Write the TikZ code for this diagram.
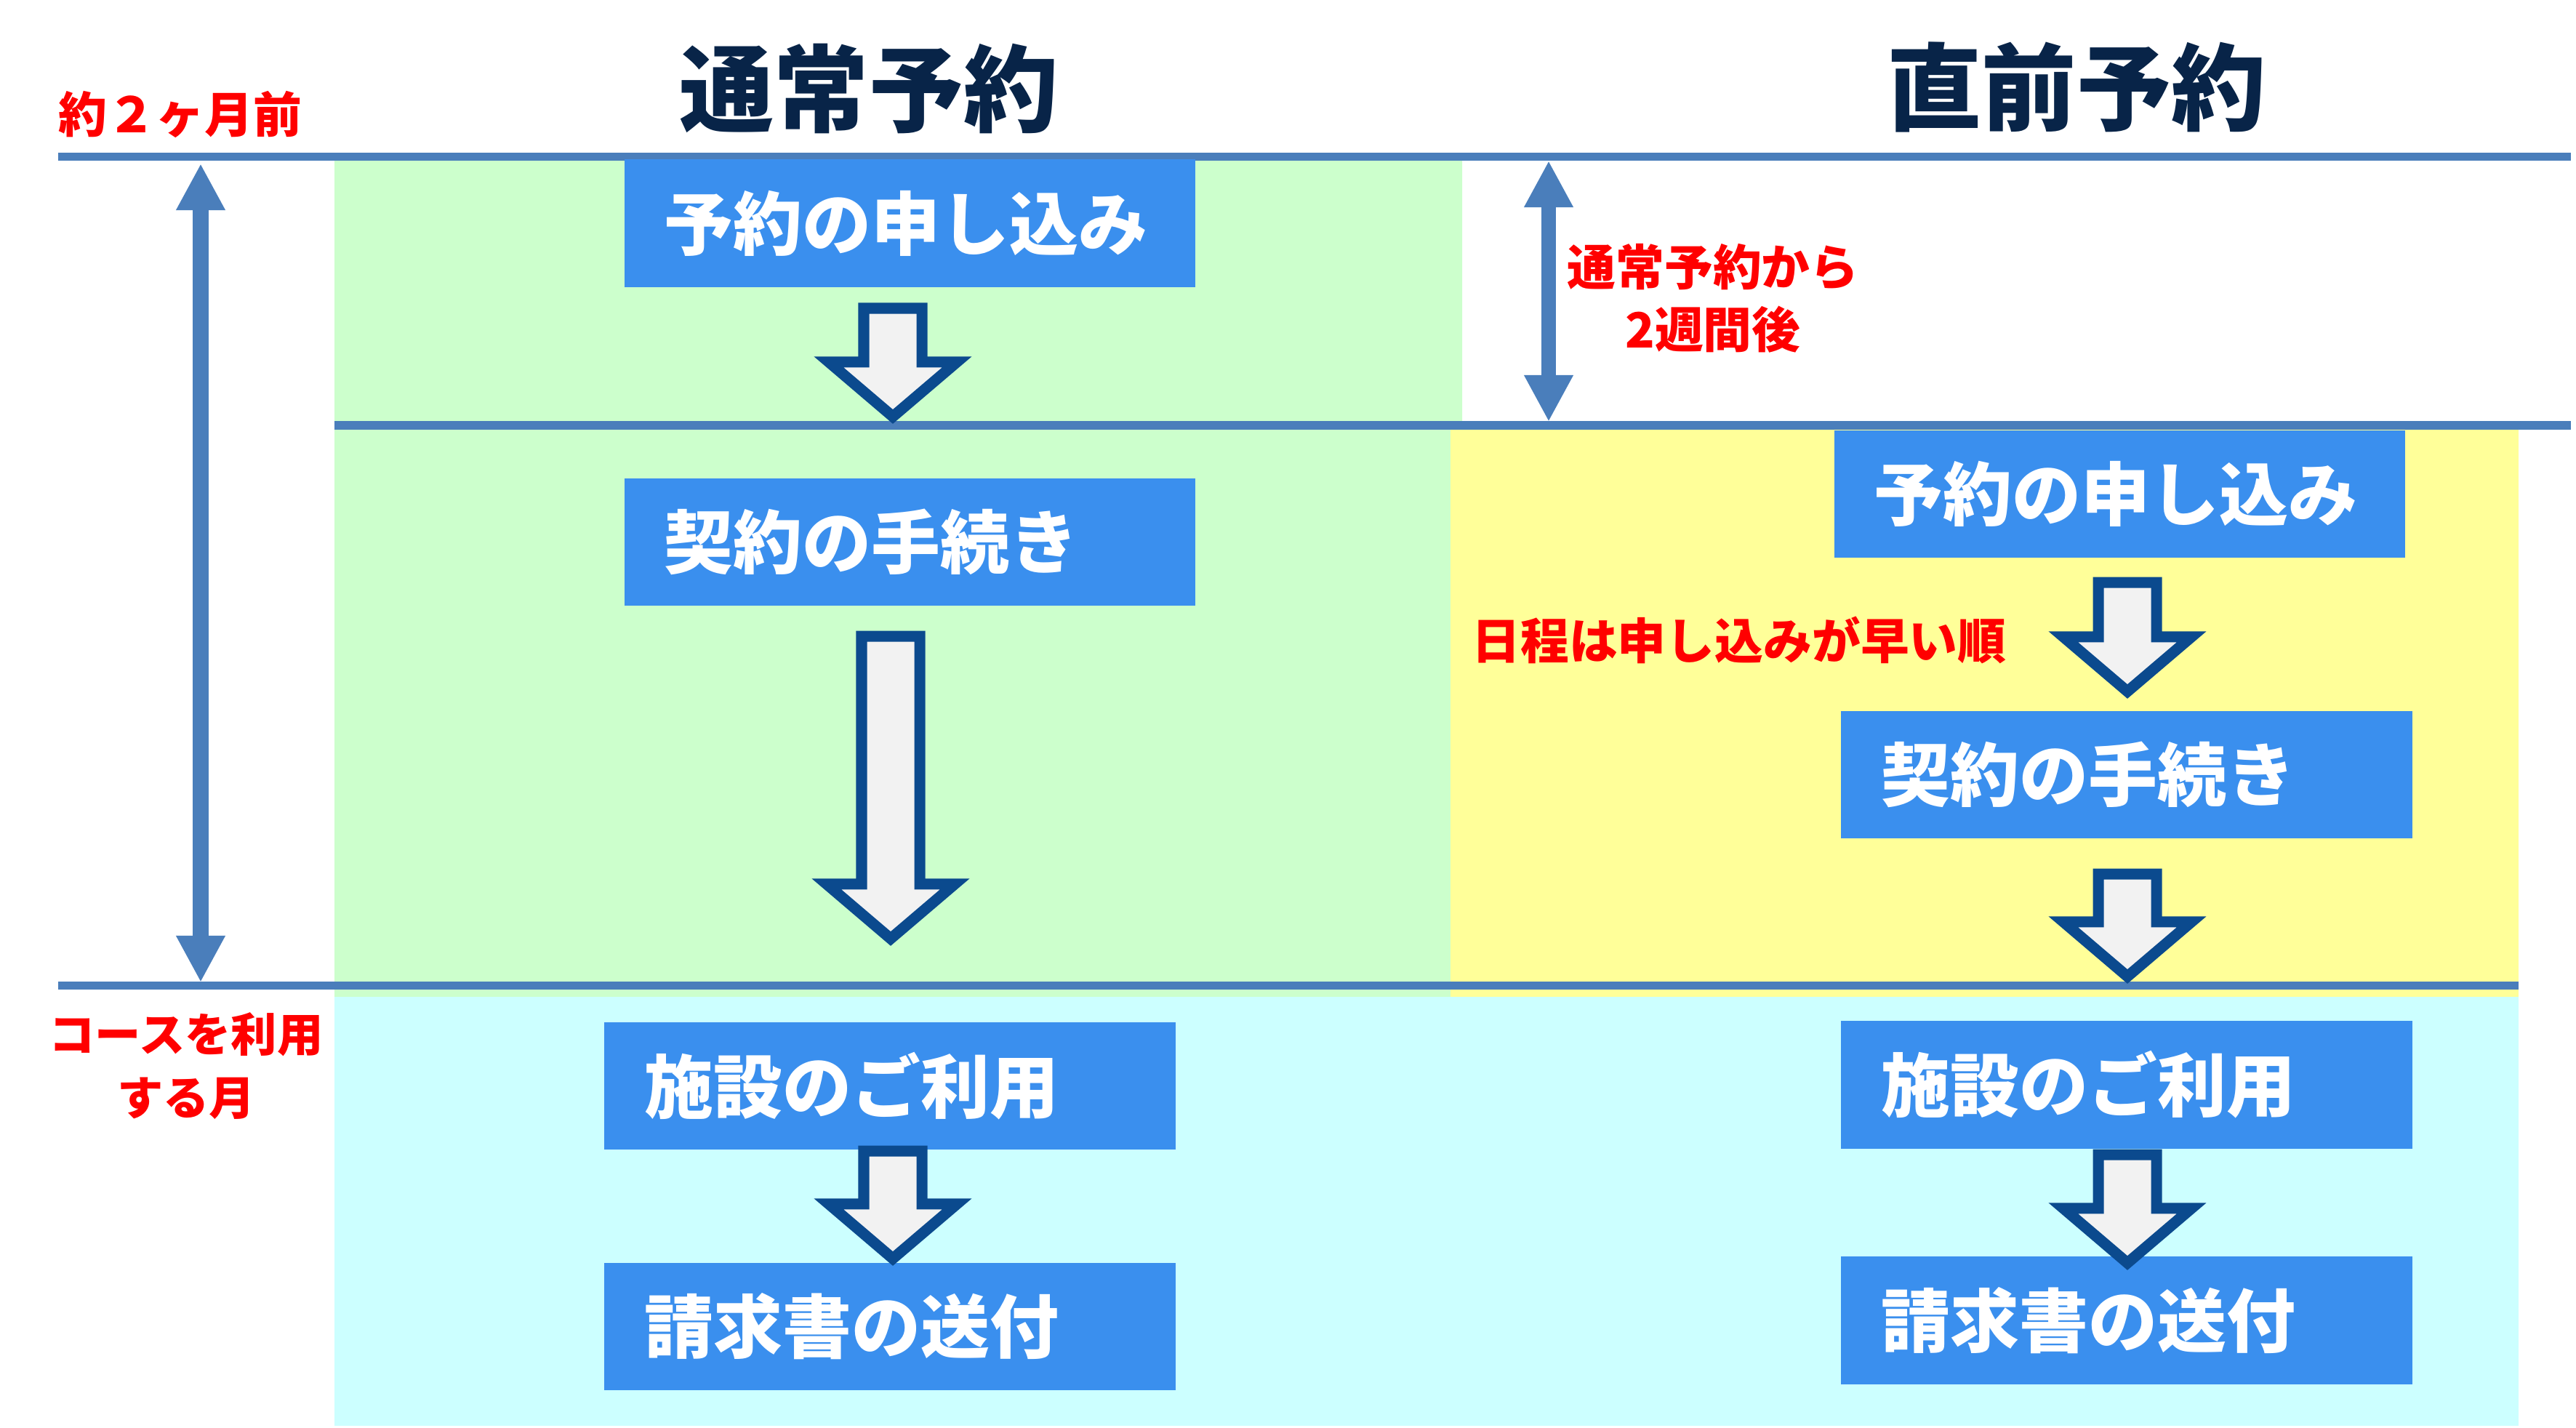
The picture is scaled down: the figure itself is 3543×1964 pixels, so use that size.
\documentclass[tikz,border=0pt]{standalone}
\usepackage{fontspec}
\setmainfont{Noto Sans CJK JP}
\usetikzlibrary{arrows.meta,calc}

\definecolor{lineblue}{RGB}{74,126,187}
\definecolor{boxblue}{RGB}{58,143,238}
\definecolor{arrowblue}{RGB}{11,74,142}
\definecolor{arrowfill}{RGB}{242,242,242}
\definecolor{titlenavy}{RGB}{8,36,72}
\definecolor{bggreen}{RGB}{204,255,204}
\definecolor{bgyellow}{RGB}{255,255,153}
\definecolor{bgcyan}{RGB}{204,255,255}

\tikzset{
  stepbox/.style={fill=boxblue, text=white,
    font=\bfseries\fontsize{27pt}{32pt}\selectfont,
    text width=6.75cm, align=left, inner xsep=0.55cm, inner ysep=0pt,
    minimum height=1.75cm},
  coltitle/.style={text=titlenavy, font=\bfseries\fontsize{37pt}{44pt}\selectfont},
  rednote/.style={text=red, align=center,
    font=\bfseries\fontsize{19pt}{24.5pt}\selectfont},
  hline/.style={lineblue, line width=0.11cm},
  period/.style={lineblue, line width=0.22cm, <->,
    >={Triangle[width=0.63cm,length=0.64cm]}},
  blockarrow/.style={draw=arrowblue, fill=arrowfill, line width=0.15cm},
}

% hollow down arrow from (#1) to its tip (#2)
\newcommand\blockarrow[2]{%
  \draw[blockarrow] let \p1=(#1), \p2=(#2) in
    (\x1-0.4cm,\y1) -- (\x1+0.4cm,\y1) -- (\x1+0.4cm,\y2+0.75cm)
    -- (\x1+0.88cm,\y2+0.75cm) -- (\x1,\y2) -- (\x1-0.88cm,\y2+0.75cm)
    -- (\x1-0.4cm,\y2+0.75cm) -- cycle;}

\begin{document}
\begin{tikzpicture}[x=0.01cm,y=-0.01cm]
  \useasboundingbox (0,0) rectangle (3543,1964);

  % bands
  \fill[bggreen] (460,215) -- (2011,215) -- (2011,585) -- (1995,585)
    -- (1995,1371) -- (460,1371) -- cycle;
  \fill[bgyellow] (1995,585) rectangle (3464,1371);
  \fill[bgcyan] (460,1371) rectangle (3464,1961);

  \draw[hline] (80,215.5) -- (3536,215.5);
  \draw[hline] (460,585) -- (3536,585);
  \draw[hline] (80,1355.5) -- (3464,1355.5);

  \node[coltitle] (t1) at (1195,122) {通常予約};
  \node[coltitle] (t2) at (2856,120) {直前予約};

  \node[rednote] (m1) at (248,157) {約２ヶ月前};
  \node[rednote, font=\bfseries\fontsize{18pt}{25pt}\selectfont] (m2) at (256,1466) {コースを利用\\する月};
  \node[rednote] (m3) at (2356,410) {通常予約から\\2週間後};
  \node[rednote] (m4) at (2392,880) {日程は申し込みが早い順};

  \coordinate (p1) at (276,225);
  \coordinate (p2) at (276,1351);
  \coordinate (q1) at (2130,221);
  \coordinate (q2) at (2130,580);
  \draw[period] (p1) -- (p2);
  \draw[period, line width=0.2cm] (q1) -- (q2);

  \node[stepbox] (n1) at (1251.5,307) {予約の申し込み};
  \node[stepbox] (n2) at (1251.5,745.5) {契約の手続き};
  \node[stepbox] (n3) at (1224,1493.5) {施設のご利用};
  \node[stepbox] (n4) at (1224,1824.5) {請求書の送付};
  \node[stepbox] (c1) at (2915.5,679.5) {予約の申し込み};
  \node[stepbox] (c2) at (2925,1065.5) {契約の手続き};
  \node[stepbox] (c3) at (2925,1492) {施設のご利用};
  \node[stepbox] (c4) at (2925,1816) {請求書の送付};

  \coordinate (s1) at (1228,424);  \coordinate (e1) at (1228,573);
  \coordinate (s2) at (1225,875);  \coordinate (e2) at (1225,1291);
  \coordinate (s3) at (1228,1583); \coordinate (e3) at (1228,1731);
  \coordinate (s4) at (2926,801);  \coordinate (e4) at (2926,951);
  \coordinate (s5) at (2926,1202); \coordinate (e5) at (2926,1343);
  \coordinate (s6) at (2926,1588); \coordinate (e6) at (2926,1737);
  \foreach \i in {1,...,6} {\blockarrow{s\i}{e\i}}
\end{tikzpicture}
\end{document}
